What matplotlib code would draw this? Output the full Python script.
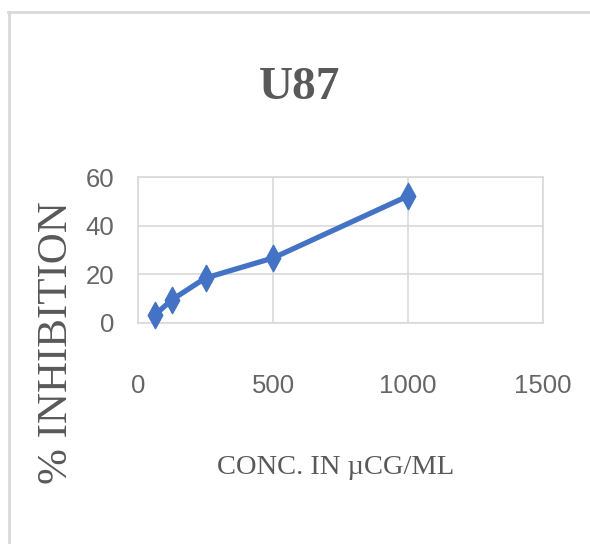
import matplotlib
matplotlib.use("Agg")
import matplotlib.pyplot as plt
from matplotlib.lines import Line2D
from matplotlib.path import Path

# U87 dose-response data
concentration = [62.5, 125, 250, 500, 1000]
inhibition = [3.3, 9.5, 18.5, 26.7, 52.2]

x_ticks = [0, 500, 1000, 1500]
y_ticks = [0, 20, 40, 60]

title_text = "U87"
x_label = "CONC. IN \u00b5CG/ML"
y_label = "% INHIBITION"

line_color = "#4472C4"
text_color = "#595959"
grid_color = "#D9D9D9"

serif = ["Liberation Serif", "DejaVu Serif"]
sans = ["Liberation Sans", "DejaVu Sans"]

fig = plt.figure(figsize=(5.90, 5.44), dpi=100)
fig.patch.set_facecolor("white")

# outer chart frame (top and left edges)
fig.add_artist(Line2D([8 / 590, 1.0], [1 - 12 / 544, 1 - 12 / 544],
                      transform=fig.transFigure, color=grid_color, lw=2.0))
fig.add_artist(Line2D([9 / 590, 9 / 590], [0.0, 1 - 12 / 544],
                      transform=fig.transFigure, color=grid_color, lw=2.0))

ax = fig.add_axes([138 / 590, 1 - 323 / 544, 405 / 590, 146 / 544])
ax.set_xlim(0, 1500)
ax.set_ylim(0, 60)
ax.set_xticks(x_ticks)
ax.set_yticks(y_ticks)
ax.grid(True, color=grid_color, lw=1.2)
ax.set_axisbelow(True)
for sp in ax.spines.values():
    sp.set_color(grid_color)
    sp.set_linewidth(1.2)

ax.tick_params(axis="both", length=0, colors="#666666", labelsize=18.5)
ax.tick_params(axis="x", pad=37)
ax.tick_params(axis="y", pad=17)
for lab in ax.get_xticklabels() + ax.get_yticklabels():
    lab.set_family(sans)

# tall diamond marker
diamond = Path([(0, 1), (0.55, 0), (0, -1), (-0.55, 0), (0, 1)],
               [Path.MOVETO, Path.LINETO, Path.LINETO, Path.LINETO, Path.CLOSEPOLY])
ax.plot(concentration, inhibition, color=line_color, lw=3.8,
        marker=diamond, markersize=19, markerfacecolor=line_color,
        markeredgecolor=line_color, clip_on=False, zorder=3)

fig.text(300 / 590, 1 - 88 / 544, title_text, ha="center", va="center",
         fontsize=34, fontweight="bold", family=serif, color=text_color)
fig.text(57 / 590, 1 - 343 / 544, y_label, ha="center", va="center",
         rotation=90, fontsize=31, family=serif, color=text_color)
fig.text(336 / 590, 1 - 467 / 544, x_label, ha="center", va="center",
         fontsize=20.5, family=serif, color=text_color)

fig.savefig("out.png", dpi=100, facecolor="white")
